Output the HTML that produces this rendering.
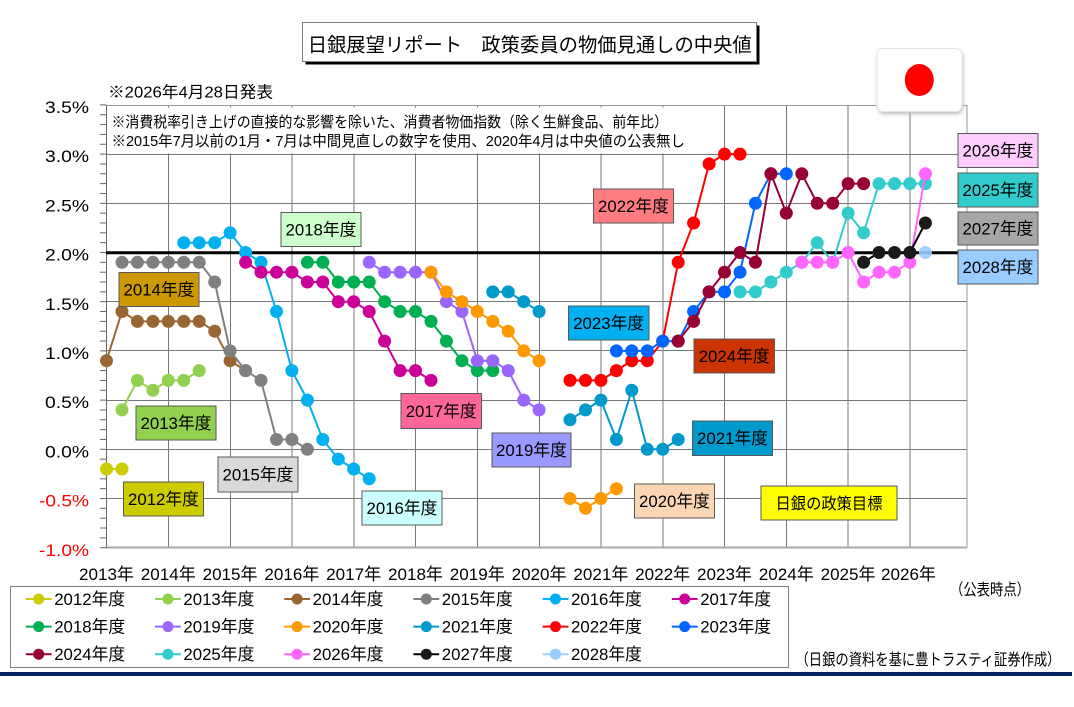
<!DOCTYPE html>
<html><head><meta charset="utf-8"><style>html,body{margin:0;padding:0;background:#fff;}svg{display:block;}</style></head>
<body>
<svg width="1074" height="707" viewBox="0 0 1074 707" xmlns="http://www.w3.org/2000/svg" font-family="'Liberation Sans','Noto Sans CJK JP',sans-serif">
<defs>
<pattern id="tk" patternUnits="userSpaceOnUse" x="100" y="104.4" width="7" height="9.84"><rect x="0" y="0" width="7" height="1" fill="#666"/></pattern>
<marker id="m12" markerUnits="userSpaceOnUse" markerWidth="14" markerHeight="14" refX="7" refY="7" overflow="visible"><circle cx="7" cy="7" r="6.5" fill="#cccc00"/></marker>
<marker id="m13" markerUnits="userSpaceOnUse" markerWidth="14" markerHeight="14" refX="7" refY="7" overflow="visible"><circle cx="7" cy="7" r="6.5" fill="#92d050"/></marker>
<marker id="m14" markerUnits="userSpaceOnUse" markerWidth="14" markerHeight="14" refX="7" refY="7" overflow="visible"><circle cx="7" cy="7" r="6.5" fill="#996633"/></marker>
<marker id="m15" markerUnits="userSpaceOnUse" markerWidth="14" markerHeight="14" refX="7" refY="7" overflow="visible"><circle cx="7" cy="7" r="6.5" fill="#808080"/></marker>
<marker id="m16" markerUnits="userSpaceOnUse" markerWidth="14" markerHeight="14" refX="7" refY="7" overflow="visible"><circle cx="7" cy="7" r="6.5" fill="#00b0f0"/></marker>
<marker id="m17" markerUnits="userSpaceOnUse" markerWidth="14" markerHeight="14" refX="7" refY="7" overflow="visible"><circle cx="7" cy="7" r="6.5" fill="#cc0099"/></marker>
<marker id="m18" markerUnits="userSpaceOnUse" markerWidth="14" markerHeight="14" refX="7" refY="7" overflow="visible"><circle cx="7" cy="7" r="6.5" fill="#00b050"/></marker>
<marker id="m19" markerUnits="userSpaceOnUse" markerWidth="14" markerHeight="14" refX="7" refY="7" overflow="visible"><circle cx="7" cy="7" r="6.5" fill="#9966ff"/></marker>
<marker id="m20" markerUnits="userSpaceOnUse" markerWidth="14" markerHeight="14" refX="7" refY="7" overflow="visible"><circle cx="7" cy="7" r="6.5" fill="#ff9900"/></marker>
<marker id="m21" markerUnits="userSpaceOnUse" markerWidth="14" markerHeight="14" refX="7" refY="7" overflow="visible"><circle cx="7" cy="7" r="6.5" fill="#0099cc"/></marker>
<marker id="m22" markerUnits="userSpaceOnUse" markerWidth="14" markerHeight="14" refX="7" refY="7" overflow="visible"><circle cx="7" cy="7" r="6.5" fill="#ff0000"/></marker>
<marker id="m23" markerUnits="userSpaceOnUse" markerWidth="14" markerHeight="14" refX="7" refY="7" overflow="visible"><circle cx="7" cy="7" r="6.5" fill="#0066ff"/></marker>
<marker id="m24" markerUnits="userSpaceOnUse" markerWidth="14" markerHeight="14" refX="7" refY="7" overflow="visible"><circle cx="7" cy="7" r="6.5" fill="#990033"/></marker>
<marker id="m25" markerUnits="userSpaceOnUse" markerWidth="14" markerHeight="14" refX="7" refY="7" overflow="visible"><circle cx="7" cy="7" r="6.5" fill="#33cccc"/></marker>
<marker id="m26" markerUnits="userSpaceOnUse" markerWidth="14" markerHeight="14" refX="7" refY="7" overflow="visible"><circle cx="7" cy="7" r="6.5" fill="#ff66ff"/></marker>
<marker id="m27" markerUnits="userSpaceOnUse" markerWidth="14" markerHeight="14" refX="7" refY="7" overflow="visible"><circle cx="7" cy="7" r="6.5" fill="#1a1a1a"/></marker>
<filter id="sh" x="-20%" y="-20%" width="140%" height="150%"><feGaussianBlur stdDeviation="2"/></filter>
</defs>
<rect width="1074" height="707" fill="#fff"/>

<!-- Title -->
<rect x="305.5" y="25.5" width="454" height="39" fill="#000"/>
<rect x="302.5" y="22.5" width="454" height="39" fill="#fff" stroke="#808080" stroke-width="1"/>
<text x="529.7" y="51.5" font-size="19.5" text-anchor="middle" textLength="444" lengthAdjust="spacingAndGlyphs" fill="#000">日銀展望リポート　政策委員の物価見通しの中央値</text>

<text x="108" y="97.5" font-size="16" textLength="165" lengthAdjust="spacingAndGlyphs" fill="#000">※2026年4月28日発表</text>

<!-- Gridlines -->
<g stroke="#777" stroke-width="1" fill="none">
<path d="M106.5 154.5H967M106.5 203.5H967M106.5 301.5H967M106.5 350.5H967M106.5 400.5H967M106.5 449.5H967M106.5 498.5H967"/>
<path d="M168.5 105V548M230.5 105V548M292 105V548M354 105V548M415.5 105V548M477.5 105V548M539.5 105V548M601 105V548M663 105V548M724.5 105V548M786.5 105V548M848 105V548M910 105V548"/>
</g>
<!-- plot border -->
<path d="M106.5 105.5H967V547.5" stroke="#999" stroke-width="1" fill="none"/>
<path d="M106 547.5H967" stroke="#aaa" stroke-width="2" fill="none"/>
<path d="M106.5 105V548" stroke="#666" stroke-width="1" fill="none"/>
<rect x="100" y="104" width="6.5" height="445" fill="url(#tk)"/>

<!-- notes box -->
<rect x="107.5" y="107.5" width="590" height="46" fill="#fff"/>
<text x="111.5" y="127" font-size="15" textLength="556.5" lengthAdjust="spacingAndGlyphs" fill="#000">※消費税率引き上げの直接的な影響を除いた、消費者物価指数（除く生鮮食品、前年比）</text>
<text x="111.5" y="146" font-size="15" textLength="573.5" lengthAdjust="spacingAndGlyphs" fill="#000">※2015年7月以前の1月・7月は中間見直しの数字を使用、2020年4月は中央値の公表無し</text>

<!-- 2% target line -->
<path d="M106 252.7H958" stroke="#000" stroke-width="3"/>

<!-- Series -->
<g fill="none" stroke-width="2" stroke-linejoin="round">
<polyline points="106.5,469 122,469" stroke="#cccc00" marker-start="url(#m12)" marker-mid="url(#m12)" marker-end="url(#m12)"/>
<polyline points="122,409.9 137.4,380.4 152.9,390.3 168.3,380.4 183.8,380.4 199.2,370.6" stroke="#92d050" marker-start="url(#m13)" marker-mid="url(#m13)" marker-end="url(#m13)"/>
<polyline points="106.5,360.7 122,311.5 137.4,321.4 152.9,321.4 168.3,321.4 183.8,321.4 199.2,321.4 214.7,331.2 230.1,360.7 245.6,370.6" stroke="#996633" marker-start="url(#m14)" marker-mid="url(#m14)" marker-end="url(#m14)"/>
<polyline points="122,262.3 137.4,262.3 152.9,262.3 168.3,262.3 183.8,262.3 199.2,262.3 214.7,282 230.1,350.9 245.6,370.6 261,380.4 276.5,439.5 291.9,439.5 307.4,449.3" stroke="#808080" marker-start="url(#m15)" marker-mid="url(#m15)" marker-end="url(#m15)"/>
<polyline points="183.8,242.7 199.2,242.7 214.7,242.7 230.1,232.8 245.6,252.5 261,262.3 276.5,311.5 291.9,370.6 307.4,400.1 322.8,439.5 338.3,459.1 353.7,469 369.2,478.8" stroke="#00b0f0" marker-start="url(#m16)" marker-mid="url(#m16)" marker-end="url(#m16)"/>
<polyline points="245.6,262.3 261,272.2 276.5,272.2 291.9,272.2 307.4,282 322.8,282 338.3,301.7 353.7,301.7 369.2,311.5 384.6,341.1 400.1,370.6 415.5,370.6 431,380.4" stroke="#cc0099" marker-start="url(#m17)" marker-mid="url(#m17)" marker-end="url(#m17)"/>
<polyline points="307.4,262.3 322.8,262.3 338.3,282 353.7,282 369.2,282 384.6,301.7 400.1,311.5 415.5,311.5 431,321.4 446.4,341.1 461.9,360.7 477.3,370.6 492.8,370.6" stroke="#00b050" marker-start="url(#m18)" marker-mid="url(#m18)" marker-end="url(#m18)"/>
<polyline points="369.2,262.3 384.6,272.2 400.1,272.2 415.5,272.2 431,272.2 446.4,301.7 461.9,311.5 477.3,360.7 492.8,360.7 508.2,370.6 523.7,400.1 539.1,409.9" stroke="#9966ff" marker-start="url(#m19)" marker-mid="url(#m19)" marker-end="url(#m19)"/>
<polyline points="431,272.2 446.4,291.9 461.9,301.7 477.3,311.5 492.8,321.4 508.2,331.2 523.7,350.9 539.1,360.7" stroke="#ff9900" marker-start="url(#m20)" marker-mid="url(#m20)" marker-end="url(#m20)"/>
<polyline points="570,498.5 585.5,508.3 600.9,498.5 616.4,488.7" stroke="#ff9900" marker-start="url(#m20)" marker-mid="url(#m20)" marker-end="url(#m20)"/>
<polyline points="492.8,291.9 508.2,291.9 523.7,301.7 539.1,311.5" stroke="#0099cc" marker-start="url(#m21)" marker-mid="url(#m21)" marker-end="url(#m21)"/>
<polyline points="570,419.8 585.5,409.9 600.9,400.1 616.4,439.5 631.8,390.3 647.3,449.3 662.7,449.3 678.2,439.5" stroke="#0099cc" marker-start="url(#m21)" marker-mid="url(#m21)" marker-end="url(#m21)"/>
<polyline points="570,380.4 585.5,380.4 600.9,380.4 616.4,370.6 631.8,360.7 647.3,360.7 662.7,341.1 678.2,262.3 693.6,223 709.1,163.9 724.5,154.1 740,154.1" stroke="#ff0000" marker-start="url(#m22)" marker-mid="url(#m22)" marker-end="url(#m22)"/>
<polyline points="616.4,350.9 631.8,350.9 647.3,350.9 662.7,341.1 678.2,341.1 693.6,311.5 709.1,291.9 724.5,291.9 740,272.2 755.4,203.3 770.9,173.8 786.3,173.8" stroke="#0066ff" marker-start="url(#m23)" marker-mid="url(#m23)" marker-end="url(#m23)"/>
<polyline points="678.2,341.1 693.6,321.4 709.1,291.9 724.5,272.2 740,252.5 755.4,262.3 770.9,173.8 786.3,213.1 801.8,173.8 817.2,203.3 832.7,203.3 848.1,183.6 863.6,183.6" stroke="#990033" marker-start="url(#m24)" marker-mid="url(#m24)" marker-end="url(#m24)"/>
<polyline points="740,291.9 755.4,291.9 770.9,282 786.3,272.2 801.8,262.3 817.2,242.7 832.7,262.3 848.1,213.1 863.6,232.8 879,183.6 894.5,183.6 909.9,183.6 925.4,183.6" stroke="#33cccc" marker-start="url(#m25)" marker-mid="url(#m25)" marker-end="url(#m25)"/>
<polyline points="801.8,262.3 817.2,262.3 832.7,262.3 848.1,252.5 863.6,282 879,272.2 894.5,272.2 909.9,262.3 925.4,173.8" stroke="#ff66ff" marker-start="url(#m26)" marker-mid="url(#m26)" marker-end="url(#m26)"/>
<polyline points="863.6,262.3 879,252.5 894.5,252.5 909.9,252.5 925.4,223" stroke="#000" marker-start="url(#m27)" marker-mid="url(#m27)" marker-end="url(#m27)"/>
</g>
<circle cx="925.4" cy="252.5" r="6.5" fill="#99ccff" opacity="0.9"/>

<!-- Series labels -->
<g stroke="#595959" stroke-width="1">
<rect x="123.5" y="482" width="80" height="34" fill="#cccc00"/>
<rect x="136" y="406" width="80" height="34" fill="#92d050"/>
<rect x="119" y="272.5" width="80" height="34" fill="#cc9900"/>
<rect x="218" y="457" width="80" height="35" fill="#d9d9d9"/>
<rect x="362" y="491" width="80" height="34" fill="#ccffff"/>
<rect x="401" y="393.5" width="80.5" height="35" fill="#ff6699"/>
<rect x="281" y="212.5" width="80" height="34" fill="#ccffcc"/>
<rect x="492" y="433" width="79" height="34" fill="#9999ff"/>
<rect x="634.5" y="484" width="80" height="34" fill="#fcd5b4"/>
<rect x="692.5" y="421" width="80" height="34.5" fill="#0099cc"/>
<rect x="593.5" y="189" width="80" height="34" fill="#ff7c80"/>
<rect x="568.5" y="306" width="80.5" height="34" fill="#00b0f0"/>
<rect x="694" y="339" width="80.5" height="34" fill="#cc3300"/>
<rect x="761" y="486" width="136" height="34" fill="#ffff00"/>
<rect x="958" y="133.5" width="80" height="34" fill="#ffccff"/>
<rect x="958" y="173" width="80" height="34" fill="#33cccc"/>
<rect x="958" y="212" width="80" height="33" fill="#a6a6a6"/>
<rect x="958" y="250" width="80" height="34" fill="#99ccff"/>
</g>
<g font-size="17" text-anchor="middle" fill="#000">
<text x="163.5" y="505" textLength="71" lengthAdjust="spacingAndGlyphs">2012年度</text>
<text x="176" y="429" textLength="71" lengthAdjust="spacingAndGlyphs">2013年度</text>
<text x="159" y="295.5" textLength="71" lengthAdjust="spacingAndGlyphs">2014年度</text>
<text x="258" y="480.5" textLength="71" lengthAdjust="spacingAndGlyphs">2015年度</text>
<text x="402" y="514" textLength="71" lengthAdjust="spacingAndGlyphs">2016年度</text>
<text x="441.2" y="417" textLength="71" lengthAdjust="spacingAndGlyphs">2017年度</text>
<text x="321" y="235.5" textLength="71" lengthAdjust="spacingAndGlyphs">2018年度</text>
<text x="531.5" y="456" textLength="71" lengthAdjust="spacingAndGlyphs">2019年度</text>
<text x="674.5" y="507" textLength="71" lengthAdjust="spacingAndGlyphs">2020年度</text>
<text x="732.5" y="444.2" textLength="71" lengthAdjust="spacingAndGlyphs">2021年度</text>
<text x="633.5" y="212" textLength="71" lengthAdjust="spacingAndGlyphs">2022年度</text>
<text x="608.7" y="329" textLength="71" lengthAdjust="spacingAndGlyphs">2023年度</text>
<text x="734.2" y="362" textLength="71" lengthAdjust="spacingAndGlyphs">2024年度</text>
<text x="829" y="509" font-size="16" textLength="107" lengthAdjust="spacingAndGlyphs">日銀の政策目標</text>
<text x="998" y="156.5" textLength="71" lengthAdjust="spacingAndGlyphs">2026年度</text>
<text x="998" y="196" textLength="71" lengthAdjust="spacingAndGlyphs">2025年度</text>
<text x="998" y="234.5" textLength="71" lengthAdjust="spacingAndGlyphs">2027年度</text>
<text x="998" y="273" textLength="71" lengthAdjust="spacingAndGlyphs">2028年度</text>
</g>

<!-- Flag -->
<rect x="878" y="51" width="85" height="63" rx="6" fill="#bbb" filter="url(#sh)"/>
<rect x="877" y="48.5" width="85" height="63" rx="6" fill="#fff" stroke="#e6e6e6" stroke-width="1"/>
<ellipse cx="919.3" cy="80" rx="14.5" ry="16" fill="#ff0000"/>

<!-- Y labels -->
<g font-size="17" text-anchor="end" fill="#000">
<text x="89" y="113" textLength="44" lengthAdjust="spacingAndGlyphs">3.5%</text>
<text x="89" y="162.2" textLength="44" lengthAdjust="spacingAndGlyphs">3.0%</text>
<text x="89" y="211.4" textLength="44" lengthAdjust="spacingAndGlyphs">2.5%</text>
<text x="89" y="260.6" textLength="44" lengthAdjust="spacingAndGlyphs">2.0%</text>
<text x="89" y="309.8" textLength="44" lengthAdjust="spacingAndGlyphs">1.5%</text>
<text x="89" y="359" textLength="44" lengthAdjust="spacingAndGlyphs">1.0%</text>
<text x="89" y="408.2" textLength="44" lengthAdjust="spacingAndGlyphs">0.5%</text>
<text x="89" y="457.4" textLength="44" lengthAdjust="spacingAndGlyphs">0.0%</text>
<text x="89" y="506.6" textLength="50" lengthAdjust="spacingAndGlyphs" fill="#ff0000">-0.5%</text>
<text x="89" y="555.8" textLength="50" lengthAdjust="spacingAndGlyphs" fill="#ff0000">-1.0%</text>
</g>

<!-- X labels -->
<g font-size="17" text-anchor="middle" fill="#000">
<text x="106.5" y="580" textLength="55" lengthAdjust="spacingAndGlyphs">2013年</text>
<text x="168.3" y="580" textLength="55" lengthAdjust="spacingAndGlyphs">2014年</text>
<text x="230.1" y="580" textLength="55" lengthAdjust="spacingAndGlyphs">2015年</text>
<text x="291.9" y="580" textLength="55" lengthAdjust="spacingAndGlyphs">2016年</text>
<text x="353.7" y="580" textLength="55" lengthAdjust="spacingAndGlyphs">2017年</text>
<text x="415.5" y="580" textLength="55" lengthAdjust="spacingAndGlyphs">2018年</text>
<text x="477.3" y="580" textLength="55" lengthAdjust="spacingAndGlyphs">2019年</text>
<text x="539.1" y="580" textLength="55" lengthAdjust="spacingAndGlyphs">2020年</text>
<text x="600.9" y="580" textLength="55" lengthAdjust="spacingAndGlyphs">2021年</text>
<text x="662.7" y="580" textLength="55" lengthAdjust="spacingAndGlyphs">2022年</text>
<text x="724.5" y="580" textLength="55" lengthAdjust="spacingAndGlyphs">2023年</text>
<text x="786.3" y="580" textLength="55" lengthAdjust="spacingAndGlyphs">2024年</text>
<text x="848.1" y="580" textLength="55" lengthAdjust="spacingAndGlyphs">2025年</text>
<text x="908.5" y="580" textLength="55" lengthAdjust="spacingAndGlyphs">2026年</text>
</g>
<text x="950" y="595" font-size="16" textLength="80" lengthAdjust="spacingAndGlyphs" fill="#000">（公表時点）</text>

<!-- Legend -->
<rect x="10.5" y="586.5" width="778" height="81" fill="#fff" stroke="#808080" stroke-width="1"/>
<g stroke-width="2">
<path d="M25.8 599H51.6" stroke="#cccc00"/><circle cx="38.7" cy="599" r="5.5" fill="#cccc00"/>
<path d="M155 599H180.8" stroke="#92d050"/><circle cx="167.9" cy="599" r="5.5" fill="#92d050"/>
<path d="M284.2 599H310" stroke="#996633"/><circle cx="297.1" cy="599" r="5.5" fill="#996633"/>
<path d="M413.4 599H439.2" stroke="#808080"/><circle cx="426.3" cy="599" r="5.5" fill="#808080"/>
<path d="M542.6 599H568.4" stroke="#00b0f0"/><circle cx="555.5" cy="599" r="5.5" fill="#00b0f0"/>
<path d="M671.8 599H697.6" stroke="#cc0099"/><circle cx="684.7" cy="599" r="5.5" fill="#cc0099"/>
<path d="M25.8 626.6H51.6" stroke="#00b050"/><circle cx="38.7" cy="626.6" r="5.5" fill="#00b050"/>
<path d="M155 626.6H180.8" stroke="#9966ff"/><circle cx="167.9" cy="626.6" r="5.5" fill="#9966ff"/>
<path d="M284.2 626.6H310" stroke="#ff9900"/><circle cx="297.1" cy="626.6" r="5.5" fill="#ff9900"/>
<path d="M413.4 626.6H439.2" stroke="#0099cc"/><circle cx="426.3" cy="626.6" r="5.5" fill="#0099cc"/>
<path d="M542.6 626.6H568.4" stroke="#ff0000"/><circle cx="555.5" cy="626.6" r="5.5" fill="#ff0000"/>
<path d="M671.8 626.6H697.6" stroke="#0066ff"/><circle cx="684.7" cy="626.6" r="5.5" fill="#0066ff"/>
<path d="M25.8 654.2H51.6" stroke="#990033"/><circle cx="38.7" cy="654.2" r="5.5" fill="#990033"/>
<path d="M155 654.2H180.8" stroke="#33cccc"/><circle cx="167.9" cy="654.2" r="5.5" fill="#33cccc"/>
<path d="M284.2 654.2H310" stroke="#ff66ff"/><circle cx="297.1" cy="654.2" r="5.5" fill="#ff66ff"/>
<path d="M413.4 654.2H439.2" stroke="#000"/><circle cx="426.3" cy="654.2" r="5.5" fill="#1a1a1a"/>
<path d="M542.6 654.2H568.4" stroke="#99ccff"/><circle cx="555.5" cy="654.2" r="5.5" fill="#99ccff"/>
</g>
<g font-size="17" fill="#000">
<text x="54.2" y="605" textLength="71" lengthAdjust="spacingAndGlyphs">2012年度</text>
<text x="183.4" y="605" textLength="71" lengthAdjust="spacingAndGlyphs">2013年度</text>
<text x="312.6" y="605" textLength="71" lengthAdjust="spacingAndGlyphs">2014年度</text>
<text x="441.8" y="605" textLength="71" lengthAdjust="spacingAndGlyphs">2015年度</text>
<text x="571" y="605" textLength="71" lengthAdjust="spacingAndGlyphs">2016年度</text>
<text x="700.2" y="605" textLength="71" lengthAdjust="spacingAndGlyphs">2017年度</text>
<text x="54.2" y="632.6" textLength="71" lengthAdjust="spacingAndGlyphs">2018年度</text>
<text x="183.4" y="632.6" textLength="71" lengthAdjust="spacingAndGlyphs">2019年度</text>
<text x="312.6" y="632.6" textLength="71" lengthAdjust="spacingAndGlyphs">2020年度</text>
<text x="441.8" y="632.6" textLength="71" lengthAdjust="spacingAndGlyphs">2021年度</text>
<text x="571" y="632.6" textLength="71" lengthAdjust="spacingAndGlyphs">2022年度</text>
<text x="700.2" y="632.6" textLength="71" lengthAdjust="spacingAndGlyphs">2023年度</text>
<text x="54.2" y="660.2" textLength="71" lengthAdjust="spacingAndGlyphs">2024年度</text>
<text x="183.4" y="660.2" textLength="71" lengthAdjust="spacingAndGlyphs">2025年度</text>
<text x="312.6" y="660.2" textLength="71" lengthAdjust="spacingAndGlyphs">2026年度</text>
<text x="441.8" y="660.2" textLength="71" lengthAdjust="spacingAndGlyphs">2027年度</text>
<text x="571" y="660.2" textLength="71" lengthAdjust="spacingAndGlyphs">2028年度</text>
</g>

<text x="795.5" y="665" font-size="16" textLength="265" lengthAdjust="spacingAndGlyphs" fill="#000">（日銀の資料を基に豊トラスティ証券作成）</text>

<!-- Bottom navy rule -->
<rect x="0" y="672" width="1072" height="4" fill="#002060"/>
</svg>
</body></html>
